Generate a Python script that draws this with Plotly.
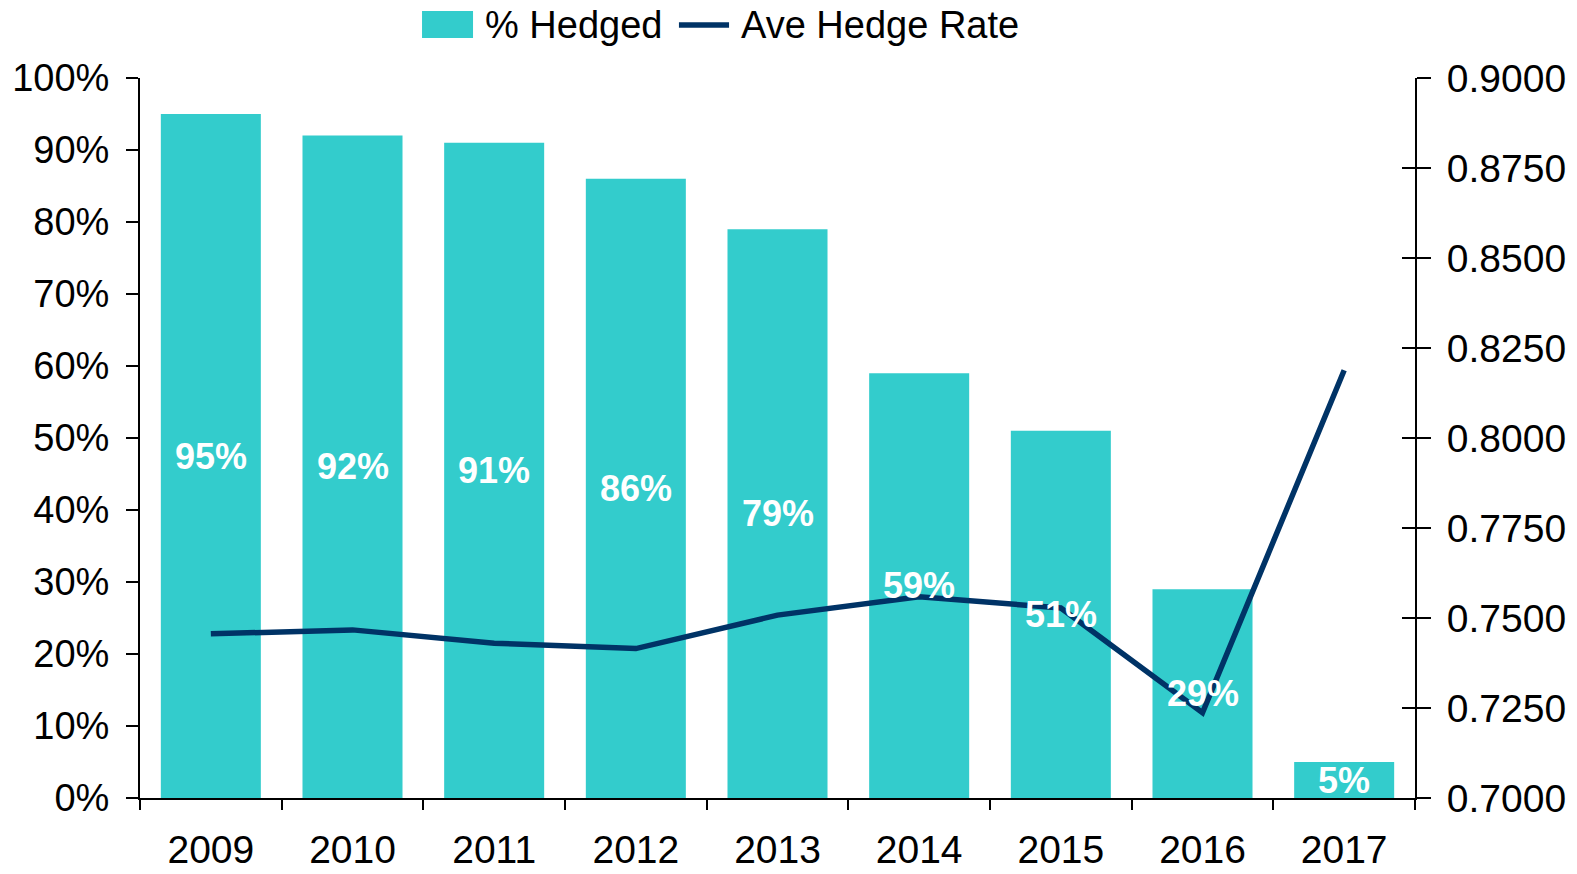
import plotly.graph_objects as go

years = ["2009", "2010", "2011", "2012", "2013", "2014", "2015", "2016", "2017"]
pct_hedged = [95, 92, 91, 86, 79, 59, 51, 29, 5]
ave_hedge_rate = [0.7456, 0.7467, 0.7430, 0.7415, 0.7508, 0.7559, 0.7528, 0.7237, 0.8188]
left_ticks = [0, 10, 20, 30, 40, 50, 60, 70, 80, 90, 100]
right_ticks = [0.70, 0.725, 0.75, 0.775, 0.80, 0.825, 0.85, 0.875, 0.90]
series_names = ["% Hedged", "Ave Hedge Rate"]

FONT = "Liberation Sans, Arial, sans-serif"
BAR_COLOR = "#33CCCC"
LINE_COLOR = "#003366"

fig = go.Figure()
fig.add_trace(go.Bar(
    x=years, y=pct_hedged, name=series_names[0],
    marker=dict(color=BAR_COLOR, line=dict(width=0)),
    yaxis="y", showlegend=False,
))
fig.add_trace(go.Scatter(
    x=years, y=ave_hedge_rate, name=series_names[1],
    mode="lines", line=dict(color=LINE_COLOR, width=5.5),
    yaxis="y2", showlegend=False,
))
# invisible trace to activate the tick-only overlay axis (ticks crossing the right axis)
fig.add_trace(go.Scatter(x=[years[0]], y=[0.70], yaxis="y3", mode="markers",
                         marker=dict(opacity=0), showlegend=False, hoverinfo="skip"))

annotations = []
for i, v in enumerate(pct_hedged):
    annotations.append(dict(
        x=i, y=v / 2, xref="x", yref="y", text=f"<b>{v}%</b>",
        showarrow=False, font=dict(family=FONT, size=36, color="white"),
    ))

# legend drawn as shapes + text above the plot
LEG_Y = 1.0736
annotations.append(dict(x=0.2690, y=LEG_Y, xref="paper", yref="paper", xanchor="left",
                        yanchor="middle", text=series_names[0], showarrow=False,
                        font=dict(family=FONT, size=38, color="black")))
annotations.append(dict(x=0.4698, y=LEG_Y, xref="paper", yref="paper", xanchor="left",
                        yanchor="middle", text=series_names[1], showarrow=False,
                        font=dict(family=FONT, size=38, color="black")))
shapes = [
    dict(type="rect", xref="paper", yref="paper", x0=0.2212, x1=0.2612, y0=1.0556, y1=1.0931,
         fillcolor=BAR_COLOR, line=dict(width=0)),
    dict(type="line", xref="paper", yref="paper", x0=0.4227, x1=0.4620, y0=LEG_Y, y1=LEG_Y,
         line=dict(color=LINE_COLOR, width=5.5)),
]

fig.update_layout(
    width=1577, height=874,
    margin=dict(l=140, r=162, t=78, b=76, autoexpand=False),
    paper_bgcolor="white", plot_bgcolor="white",
    font=dict(family=FONT, size=39, color="black"),
    bargap=0.294,
    showlegend=False,
    annotations=annotations,
    shapes=shapes,
    xaxis=dict(
        type="category", range=[-0.5, 8.5], automargin=False,
        showline=True, linecolor="black", linewidth=2,
        ticks="outside", tickson="boundaries", ticklen=10, tickwidth=2, tickcolor="black",
        showgrid=False, zeroline=False, tickfont=dict(size=39), tickangle=0,
        ticklabelstandoff=16,
    ),
    yaxis=dict(
        range=[0, 100], tickvals=left_ticks, ticktext=[f"{t}%" for t in left_ticks],
        automargin=False,
        showline=True, linecolor="black", linewidth=2,
        ticks="outside", ticklen=12, tickwidth=2, tickcolor="black",
        showgrid=False, zeroline=False, tickfont=dict(size=38),
        ticklabelstandoff=9,
    ),
    yaxis2=dict(
        range=[0.70, 0.90], tickvals=right_ticks, ticktext=[f"{t:.4f}" for t in right_ticks],
        overlaying="y", side="right", anchor="x", automargin=False,
        showline=True, linecolor="black", linewidth=2,
        ticks="outside", ticklen=14, tickwidth=2, tickcolor="black",
        showgrid=False, zeroline=False, tickfont=dict(size=39),
        ticklabelstandoff=8,
    ),
    yaxis3=dict(
        range=[0.70, 0.9001], tickvals=right_ticks,
        overlaying="y", side="right", anchor="x", automargin=False,
        showline=False, ticks="inside", ticklen=13, tickwidth=2, tickcolor="black",
        showticklabels=False, showgrid=False, zeroline=False,
    ),
)

fig.write_html("out.html", config={"displayModeBar": False},
               post_script="document.body.style.margin='0px';")
